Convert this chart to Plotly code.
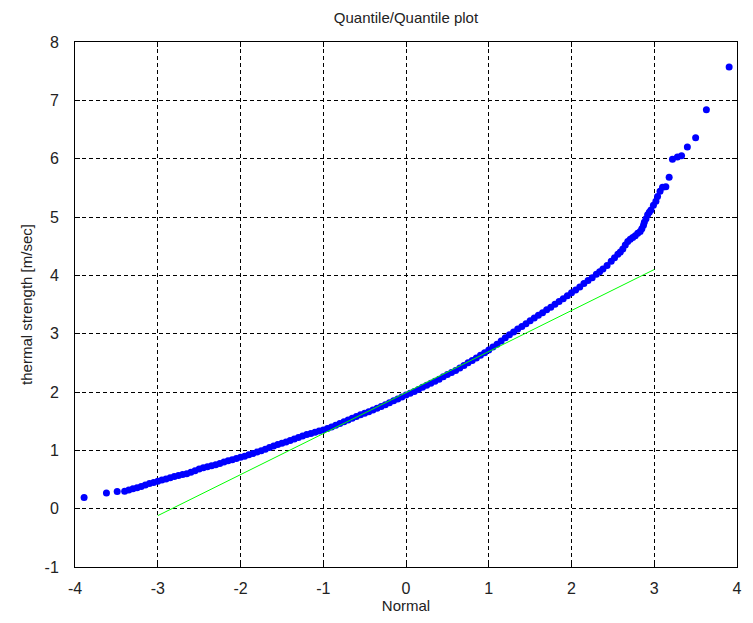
import plotly.graph_objects as go

# Quantile/Quantile data
normal_q = [
    -3.89, -3.62, -3.49, -3.40, -3.35,
    -3.30, -3.25, -3.20, -3.15, -3.10, -3.05, -3.00, -2.95, -2.90, -2.85,
    -2.80, -2.75, -2.70, -2.65, -2.60, -2.55, -2.50, -2.45, -2.40, -2.35,
    -2.30, -2.25, -2.20, -2.15, -2.10, -2.05, -2.00, -1.95, -1.90, -1.85,
    -1.80, -1.75, -1.70, -1.65, -1.60, -1.55, -1.50, -1.45, -1.40, -1.35,
    -1.30, -1.25, -1.20, -1.15, -1.10, -1.05, -1.00, -0.95, -0.90, -0.85,
    -0.80, -0.75, -0.70, -0.65, -0.60, -0.55, -0.50, -0.45, -0.40, -0.35,
    -0.30, -0.25, -0.20, -0.15, -0.10, -0.05, 0.00, 0.05, 0.10, 0.15,
    0.20, 0.25, 0.30, 0.35, 0.40, 0.45, 0.50, 0.55, 0.60, 0.65,
    0.70, 0.75, 0.80, 0.85, 0.90, 0.95, 1.00, 1.05, 1.10, 1.15,
    1.20, 1.25, 1.30, 1.35, 1.40, 1.45, 1.50, 1.55, 1.60, 1.65,
    1.70, 1.75, 1.80, 1.85, 1.90, 1.95, 2.00, 2.05, 2.10, 2.15,
    2.20, 2.25, 2.30, 2.34, 2.38, 2.43, 2.48, 2.52, 2.56, 2.59,
    2.62, 2.65, 2.68, 2.71, 2.74, 2.77, 2.80, 2.83, 2.85, 2.87,
    2.88, 2.90, 2.92, 2.94, 2.96, 2.99, 3.02, 3.04, 3.07, 3.10,
    3.14, 3.18, 3.22, 3.28, 3.33, 3.40, 3.50, 3.63, 3.905,
]
thermal_strength = [
    0.19, 0.27, 0.295, 0.30, 0.32,
    0.34, 0.36, 0.38, 0.405, 0.43, 0.45, 0.47, 0.49, 0.51, 0.53,
    0.55, 0.57, 0.585, 0.60, 0.625, 0.65, 0.68, 0.70, 0.72, 0.735,
    0.755, 0.775, 0.80, 0.82, 0.84, 0.86, 0.88, 0.90, 0.925, 0.945,
    0.97, 0.995, 1.02, 1.05, 1.075, 1.10, 1.12, 1.145, 1.17, 1.195,
    1.22, 1.245, 1.27, 1.29, 1.31, 1.33, 1.35, 1.375, 1.40, 1.43,
    1.46, 1.49, 1.52, 1.55, 1.58, 1.61, 1.635, 1.66, 1.69, 1.72,
    1.75, 1.78, 1.815, 1.85, 1.88, 1.915, 1.95, 1.98, 2.01, 2.045,
    2.08, 2.115, 2.15, 2.185, 2.22, 2.26, 2.30, 2.335, 2.37, 2.41,
    2.455, 2.50, 2.54, 2.585, 2.63, 2.675, 2.72, 2.77, 2.82, 2.875,
    2.93, 2.98, 3.03, 3.08, 3.125, 3.17, 3.22, 3.27, 3.315, 3.36,
    3.41, 3.455, 3.505, 3.55, 3.60, 3.65, 3.70, 3.75, 3.80, 3.86,
    3.91, 3.96, 4.02, 4.06, 4.11, 4.17, 4.24, 4.30, 4.36, 4.40,
    4.45, 4.52, 4.58, 4.62, 4.65, 4.68, 4.72, 4.75, 4.80, 4.86,
    4.91, 4.97, 5.04, 5.08, 5.12, 5.20, 5.27, 5.35, 5.44, 5.51,
    5.52, 5.68, 5.99, 6.03, 6.05, 6.20, 6.36, 6.84, 7.57,
]

# Reference line endpoints
ref_x = [-3.0, 3.0]
ref_y = [-0.12, 4.10]

x_ticks = [-4, -3, -2, -1, 0, 1, 2, 3, 4]
x_tick_text = ["-4", "-3", "-2", "-1", "0", "1", "2", "3", "4"]
y_ticks = [-1, 0, 1, 2, 3, 4, 5, 6, 7, 8]
y_tick_text = ["-1", "0", "1", "2", "3", "4", "5", "6", "7", "8"]

FONT = "Liberation Sans, Arial, sans-serif"

fig = go.Figure()
fig.add_trace(go.Scatter(
    x=normal_q, y=thermal_strength, mode="markers",
    marker=dict(color="#0000FF", size=7, line=dict(width=0)),
    showlegend=False,
))
fig.add_trace(go.Scatter(
    x=ref_x, y=ref_y, mode="lines",
    line=dict(color="#00FF00", width=1),
    showlegend=False,
))

axis_common = dict(
    showline=True, linecolor="black", linewidth=1, mirror="ticks",
    ticks="inside", ticklen=5, tickcolor="black",
    showgrid=True, gridcolor="black", gridwidth=1, griddash="4px,3px",
    zeroline=False,
    tickfont=dict(family=FONT, size=16, color="#222"),
)

fig.update_layout(
    width=753, height=623,
    margin=dict(l=75, r=11, t=42, b=54),
    paper_bgcolor="white", plot_bgcolor="white",
    title=dict(
        text="Quantile/Quantile plot",
        x=0.5, xref="paper", xanchor="center",
        y=1 - 18 / 623, yref="container", yanchor="middle",
        font=dict(family=FONT, size=15, color="#222"),
    ),
    xaxis=dict(
        range=[-4, 4], tickvals=x_ticks, ticktext=x_tick_text,
        ticklabelstandoff=7,
        title=dict(text="Normal", standoff=4,
                   font=dict(family=FONT, size=15, color="#222")),
        **axis_common,
    ),
    yaxis=dict(
        range=[-1, 8], tickvals=y_ticks, ticktext=y_tick_text,
        ticklabelstandoff=12,
        title=dict(text="thermal strength [m/sec]", standoff=8,
                   font=dict(family=FONT, size=15, color="#222")),
        **axis_common,
    ),
)

fig.write_html("out.html")
